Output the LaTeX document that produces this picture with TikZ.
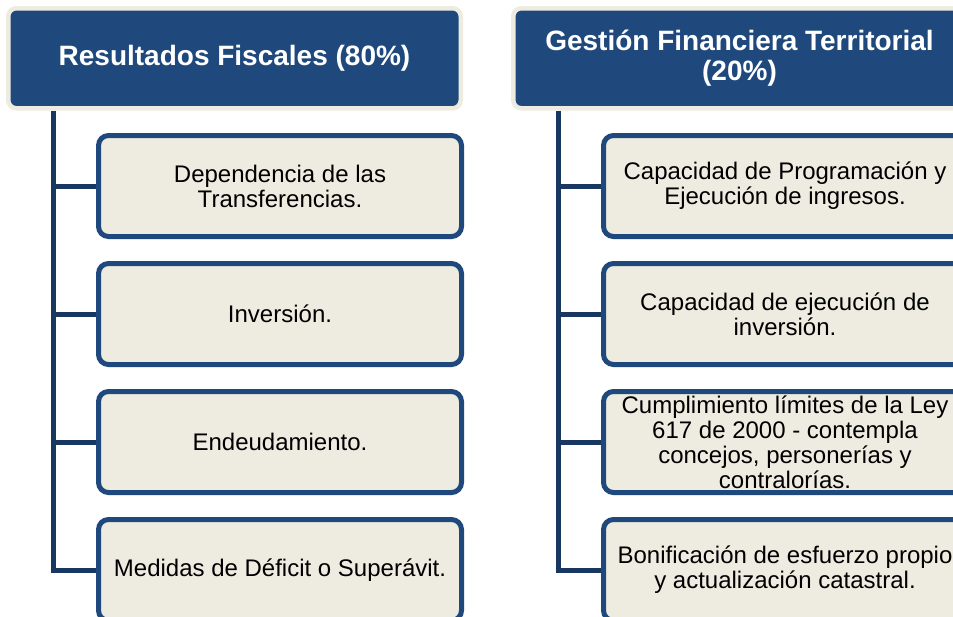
\documentclass[tikz,border=0pt]{standalone}
\usepackage{fontspec}
\setmainfont{Liberation Sans}
\usetikzlibrary{positioning, calc}
\definecolor{hdrBlue}{RGB}{31,73,125}
\definecolor{lineBlue}{RGB}{24,56,97}
\definecolor{paper}{RGB}{238,236,225}
\tikzset{
	every text node part/.style = {align=center},
	header/.style = {
		draw=paper, fill=hdrBlue, line width=4.5pt, rounded corners=8pt,
		minimum width=452.5pt, minimum height=100pt, inner sep=0pt,
		text=white, font=\fontsize{28}{30}\selectfont\bfseries
	},
	item/.style = {
		draw=hdrBlue, fill=paper, line width=5pt, rounded corners=10pt,
		minimum width=363pt, minimum height=101pt, inner sep=0pt,
		font=\fontsize{24}{25}\selectfont
	},
	branch/.style = {draw=lineBlue, line width=5pt}
}

\begin{document}
\begin{tikzpicture}[x=1pt, y=-1pt]
	\useasboundingbox (0,0) rectangle (953,616);
	\clip (0,0) rectangle (953,616);
	
	\pgfmathsetmacro{\gap}{22}
	\pgfmathsetmacro{\trunk}{47.5}
	
	% left column
	\node [header, anchor=north west] (fiscal) at (6,6) {Resultados Fiscales (80\%)};
	\node [item, anchor=north west] (l1) at (96,133) {Dependencia de las\\Transferencias.};
	\node [item, below=\gap pt of l1] (l2) {Inversión.};
	\node [item, below=\gap pt of l2] (l3) {Endeudamiento.};
	\node [item, below=\gap pt of l3] (l4) {Medidas de Déficit o Superávit.};
	
	% right column
	\node [header, anchor=north west] (gestion) at (511,6) {Gestión Financiera Territorial\\(20\%)};
	\node [item, anchor=north west] (r1) at (601,133) {Capacidad de Programación y\\Ejecución de ingresos.};
	\node [item, below=\gap pt of r1] (r2) {Capacidad de ejecución de\\inversión.};
	\node [item, below=\gap pt of r2] (r3) {Cumplimiento límites de la Ley\\617 de 2000 - contempla\\concejos, personerías y\\contralorías.};
	\node [item, below=\gap pt of r3] (r4) {Bonificación de esfuerzo propio\\y actualización catastral.};
	
	% trunks and branches
	\coordinate (tL) at ($(fiscal.south west)+(\trunk,0)$);
	\coordinate (tR) at ($(gestion.south west)+(\trunk,0)$);
	\draw [branch] (tL) |- (l4.west);
	\draw [branch] (tR) |- (r4.west);
	\foreach \i in {1,2,3}{
		\draw [branch] (l\i.west) -- (l\i.west -| tL);
		\draw [branch] (r\i.west) -- (r\i.west -| tR);
	}
	
\end{tikzpicture}
\end{document}
